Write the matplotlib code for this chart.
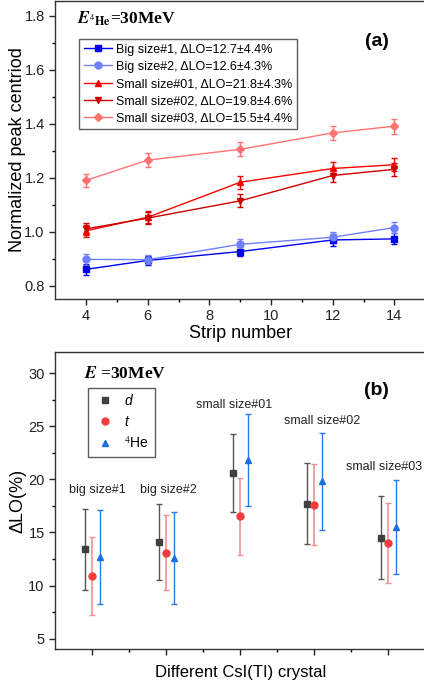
import matplotlib
matplotlib.use("Agg")
import matplotlib.pyplot as plt
from matplotlib.lines import Line2D

plt.rcParams['font.family'] = ['Liberation Sans', 'DejaVu Sans']
plt.rcParams['mathtext.fontset'] = 'stix'

# panel (a): normalized peak centroid vs strip number
strips = [4, 6, 9, 12, 14]
big1 = [0.860, 0.893, 0.926, 0.969, 0.973]
big2 = [0.897, 0.896, 0.953, 0.979, 1.015]
small01 = [1.003, 1.053, 1.183, 1.234, 1.248]
small02 = [1.010, 1.050, 1.114, 1.208, 1.231]
small03 = [1.190, 1.265, 1.305, 1.366, 1.391]
err_big1 = [0.020, 0.018, 0.018, 0.022, 0.020]
err_big2 = [0.020, 0.018, 0.020, 0.020, 0.022]
err_s01 = [0.022, 0.022, 0.024, 0.024, 0.025]
err_s02 = [0.022, 0.022, 0.024, 0.024, 0.025]
err_s03 = [0.025, 0.026, 0.026, 0.027, 0.028]
labels_a = ['Big size#1, \u0394LO=12.7\u00b14.4%', 'Big size#2, \u0394LO=12.6\u00b14.3%',
            'Small size#01, \u0394LO=21.8\u00b14.3%', 'Small size#02, \u0394LO=19.8\u00b14.6%',
            'Small size#03, \u0394LO=15.5\u00b14.4%']

# panel (b): delta LO per crystal and particle
crystals = ['big size#1', 'big size#2', 'small size#01', 'small size#02', 'small size#03']
lo_d = [13.4, 14.1, 20.6, 17.7, 14.5]
err_d = [3.8, 3.6, 3.7, 3.8, 3.9]
lo_t = [10.9, 13.1, 16.5, 17.6, 14.0]
err_t = [3.7, 3.5, 3.6, 3.8, 3.8]
lo_he = [12.7, 12.6, 21.8, 19.8, 15.5]
err_he = [4.4, 4.3, 4.3, 4.6, 4.4]
label_x = [1.07, 2.03, 2.92, 4.11, 4.95]
label_y = [19.0, 19.0, 26.95, 25.45, 21.2]

fig = plt.figure(figsize=(4.24, 6.83), dpi=100)

# ---------- (a)
ax = fig.add_axes([0.13, 0.5622, 0.873, 0.4363])
series = [(big1, err_big1, '#0000f0', 's', 4.5),
          (big2, err_big2, '#6f80ff', 'o', 5),
          (small01, err_s01, '#ff0000', '^', 5),
          (small02, err_s02, '#cc0000', 'v', 5),
          (small03, err_s03, '#ff7373', 'D', 4)]
handles = []
for (vals, errs, col, mk, ms), lab in zip(series, labels_a):
    ax.errorbar(strips, vals, yerr=errs, color=col, marker=mk, ms=ms, lw=1,
                elinewidth=1, capsize=2.5, capthick=1)
    handles.append(Line2D([], [], color=col, marker=mk, ms=ms, lw=1))
ax.set_xlim(3, 15)
ax.set_ylim(0.75, 1.855)
ax.set_xticks([4, 6, 8, 10, 12, 14])
ax.set_xticks([5, 7, 9, 11, 13], minor=True)
ax.set_yticks([0.8, 1.0, 1.2, 1.4, 1.6, 1.8])
ax.set_yticks([0.9, 1.1, 1.3, 1.5, 1.7], minor=True)
ax.set_xlabel('Strip number', fontsize=13, labelpad=1)
ax.set_ylabel('Normalized peak centriod', fontsize=13)
ax.yaxis.set_label_coords(-0.078, 0.5)
ax.text(13.42, 1.704, '(a)', fontsize=14, fontweight='bold', ha='center', va='center')
ax.text(3.7, 1.79, r'$\mathbfit{E}_{^{4}\mathbf{He}}$=30MeV', fontsize=12.5,
        family='Liberation Serif', fontweight='bold', ha='left', va='center')
leg = ax.legend(handles, labels_a, loc='upper left', bbox_to_anchor=(0.065, 0.872),
                borderaxespad=0, fontsize=9, frameon=True, fancybox=False,
                labelspacing=0.42, handlelength=2.3, handletextpad=0.3,
                borderpad=0.35)
leg.get_frame().set_edgecolor('#333333')
leg.get_frame().set_linewidth(1)

# ---------- (b)
bx = fig.add_axes([0.13, 0.0493, 0.873, 0.4357])
pos = list(range(1, len(crystals) + 1))
bx.errorbar([p - 0.1 for p in pos], lo_d, yerr=err_d, fmt='s', color='#404040',
            ecolor='#555555', ms=4.5, elinewidth=1, capsize=2.2, capthick=1)
bx.errorbar(pos, lo_t, yerr=err_t, fmt='o', color='#f23c3c',
            ecolor='#f39090', ms=5, elinewidth=1.2, capsize=2.2, capthick=1)
bx.errorbar([p + 0.1 for p in pos], lo_he, yerr=err_he, fmt='^', color='#1a6fdf',
            ecolor='#2a7ae6', ms=5, elinewidth=1, capsize=2.2, capthick=1)
for x, y, name in zip(label_x, label_y, crystals):
    bx.text(x, y, name, fontsize=9, ha='center', va='center', color='#222222')
bx.set_xlim(0.5, 5.5)
bx.set_ylim(4, 32)
bx.set_xticks(pos)
bx.set_xticks([1.5, 2.5, 3.5, 4.5], minor=True)
bx.set_xticklabels([])
bx.set_yticks([5, 10, 15, 20, 25, 30])
bx.set_yticks([7.5, 12.5, 17.5, 22.5, 27.5], minor=True)
bx.set_xlabel('Different CsI(TI) crystal', fontsize=12, labelpad=4)
bx.set_ylabel('\u0394LO(%)', fontsize=13)
bx.yaxis.set_label_coords(-0.078, 0.5)
bx.text(4.84, 28.4, '(b)', fontsize=14, fontweight='bold', ha='center', va='center')
bx.text(0.89, 29.9, r'$\mathbfit{E}$ =30MeV', fontsize=12.5,
        family='Liberation Serif', fontweight='bold', ha='left', va='center')
hb = [Line2D([], [], ls='', marker='s', color='#404040', ms=4.5),
      Line2D([], [], ls='', marker='o', color='#f23c3c', ms=5),
      Line2D([], [], ls='', marker='^', color='#1a6fdf', ms=5)]
legb = bx.legend(hb, ['d', 't', '$^{4}$He'], loc='upper left',
                 bbox_to_anchor=(0.089, 0.878), borderaxespad=0, fontsize=10,
                 frameon=True, fancybox=False, labelspacing=0.5,
                 handlelength=1.6, handletextpad=0.6, borderpad=0.4)
legb.get_texts()[0].set_fontstyle('italic')
legb.get_texts()[1].set_fontstyle('italic')
legb.get_frame().set_edgecolor('#333333')
legb.get_frame().set_linewidth(1)

for a in (ax, bx):
    a.tick_params(which='major', direction='out', length=4, width=1, labelsize=10.5,
                  colors='#222222', labelcolor='#222222')
    a.tick_params(which='minor', direction='out', length=2.5, width=1)
    for s in a.spines.values():
        s.set_linewidth(1)
        s.set_color('#333333')

fig.savefig('out.png', dpi=100)
